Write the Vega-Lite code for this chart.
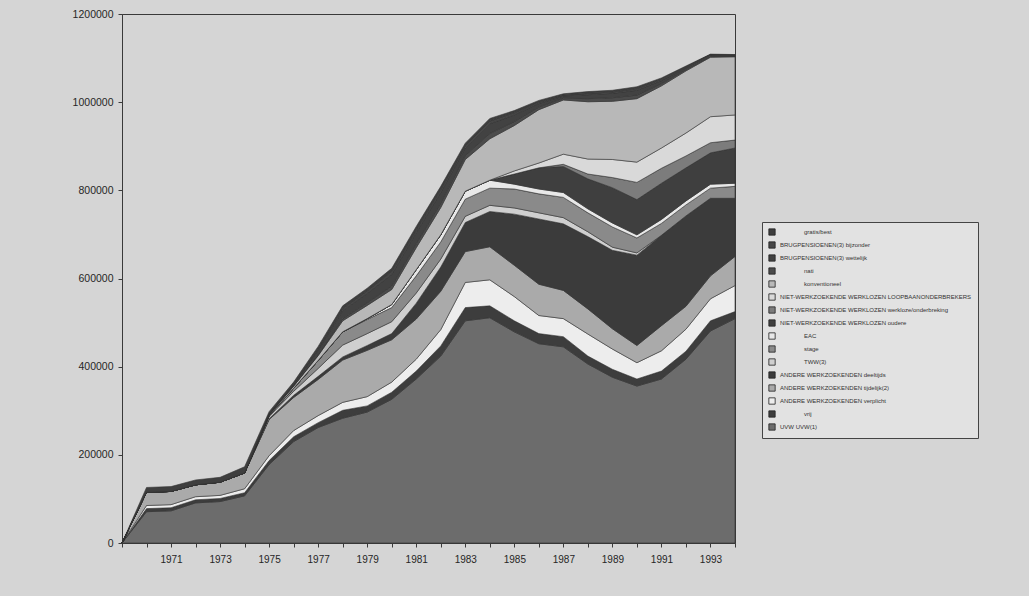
{
"$schema": "https://vega.github.io/schema/vega-lite/v6.json",
"width": 613,
"height": 529,
"autosize": {"type": "none"},
"padding": {"left": 122, "top": 14, "right": 294, "bottom": 53},
"background": "#d5d5d5",
"config": {
  "view": {"stroke": "#3a3a3a", "strokeWidth": 1},
  "font": "Liberation Sans",
  "axis": {"labelFont": "Liberation Sans", "labelColor": "#262626", "domainColor": "#3a3a3a", "tickColor": "#3a3a3a", "grid": false},
  "legend": {"labelFont": "Liberation Sans"}
},
"datasets": {
  "reeksen": [
    {"k": "u", "reeks": "UVW UVW(1)"},
    {"k": "vr", "reeks": "vrij"},
    {"k": "vp", "reeks": "ANDERE WERKZOEKENDEN verplicht"},
    {"k": "tj", "reeks": "ANDERE WERKZOEKENDEN tijdelijk(2)"},
    {"k": "dt", "reeks": "ANDERE WERKZOEKENDEN deeltijds"},
    {"k": "tw", "reeks": "TWW(3)"},
    {"k": "st", "reeks": "stage"},
    {"k": "ea", "reeks": "EAC"},
    {"k": "ou", "reeks": "NIET-WERKZOEKENDE WERKLOZEN oudere"},
    {"k": "wo", "reeks": "NIET-WERKZOEKENDE WERKLOZEN werkloze/onderbreking"},
    {"k": "lb", "reeks": "NIET-WERKZOEKENDE WERKLOZEN LOOPBAANONDERBREKERS"},
    {"k": "ko", "reeks": "konventioneel"},
    {"k": "na", "reeks": "nati"},
    {"k": "we", "reeks": "BRUGPENSIOENEN(3) wettelijk"},
    {"k": "bi", "reeks": "BRUGPENSIOENEN(3) bijzonder"},
    {"k": "gr", "reeks": "gratis/best"}
  ],
  "punten": [
{"jaar":1969,"k":"u","aantal":0},{"jaar":1969,"k":"vr","aantal":0},{"jaar":1969,"k":"vp","aantal":0},{"jaar":1969,"k":"tj","aantal":0},{"jaar":1969,"k":"dt","aantal":0},{"jaar":1969,"k":"tw","aantal":0},{"jaar":1969,"k":"st","aantal":0},{"jaar":1969,"k":"ea","aantal":0},{"jaar":1969,"k":"ou","aantal":0},{"jaar":1969,"k":"wo","aantal":0},{"jaar":1969,"k":"lb","aantal":0},{"jaar":1969,"k":"ko","aantal":0},{"jaar":1969,"k":"na","aantal":0},{"jaar":1969,"k":"we","aantal":0},{"jaar":1969,"k":"bi","aantal":0},{"jaar":1969,"k":"gr","aantal":0},
{"jaar":1970,"k":"u","aantal":71000},{"jaar":1970,"k":"vr","aantal":7000},{"jaar":1970,"k":"vp","aantal":7000},{"jaar":1970,"k":"tj","aantal":30000},{"jaar":1970,"k":"dt","aantal":0},{"jaar":1970,"k":"tw","aantal":0},{"jaar":1970,"k":"st","aantal":0},{"jaar":1970,"k":"ea","aantal":0},{"jaar":1970,"k":"ou","aantal":0},{"jaar":1970,"k":"wo","aantal":0},{"jaar":1970,"k":"lb","aantal":0},{"jaar":1970,"k":"ko","aantal":0},{"jaar":1970,"k":"na","aantal":0},{"jaar":1970,"k":"we","aantal":0},{"jaar":1970,"k":"bi","aantal":0},{"jaar":1970,"k":"gr","aantal":11000},
{"jaar":1971,"k":"u","aantal":73000},{"jaar":1971,"k":"vr","aantal":7000},{"jaar":1971,"k":"vp","aantal":7000},{"jaar":1971,"k":"tj","aantal":30000},{"jaar":1971,"k":"dt","aantal":0},{"jaar":1971,"k":"tw","aantal":0},{"jaar":1971,"k":"st","aantal":0},{"jaar":1971,"k":"ea","aantal":0},{"jaar":1971,"k":"ou","aantal":0},{"jaar":1971,"k":"wo","aantal":0},{"jaar":1971,"k":"lb","aantal":0},{"jaar":1971,"k":"ko","aantal":0},{"jaar":1971,"k":"na","aantal":0},{"jaar":1971,"k":"we","aantal":0},{"jaar":1971,"k":"bi","aantal":0},{"jaar":1971,"k":"gr","aantal":11000},
{"jaar":1972,"k":"u","aantal":91000},{"jaar":1972,"k":"vr","aantal":7000},{"jaar":1972,"k":"vp","aantal":7000},{"jaar":1972,"k":"tj","aantal":27000},{"jaar":1972,"k":"dt","aantal":0},{"jaar":1972,"k":"tw","aantal":0},{"jaar":1972,"k":"st","aantal":0},{"jaar":1972,"k":"ea","aantal":0},{"jaar":1972,"k":"ou","aantal":0},{"jaar":1972,"k":"wo","aantal":0},{"jaar":1972,"k":"lb","aantal":0},{"jaar":1972,"k":"ko","aantal":0},{"jaar":1972,"k":"na","aantal":0},{"jaar":1972,"k":"we","aantal":0},{"jaar":1972,"k":"bi","aantal":0},{"jaar":1972,"k":"gr","aantal":11000},
{"jaar":1973,"k":"u","aantal":94000},{"jaar":1973,"k":"vr","aantal":7000},{"jaar":1973,"k":"vp","aantal":7000},{"jaar":1973,"k":"tj","aantal":30000},{"jaar":1973,"k":"dt","aantal":0},{"jaar":1973,"k":"tw","aantal":0},{"jaar":1973,"k":"st","aantal":0},{"jaar":1973,"k":"ea","aantal":0},{"jaar":1973,"k":"ou","aantal":0},{"jaar":1973,"k":"wo","aantal":0},{"jaar":1973,"k":"lb","aantal":0},{"jaar":1973,"k":"ko","aantal":0},{"jaar":1973,"k":"na","aantal":0},{"jaar":1973,"k":"we","aantal":0},{"jaar":1973,"k":"bi","aantal":0},{"jaar":1973,"k":"gr","aantal":11000},
{"jaar":1974,"k":"u","aantal":107000},{"jaar":1974,"k":"vr","aantal":7000},{"jaar":1974,"k":"vp","aantal":9000},{"jaar":1974,"k":"tj","aantal":36000},{"jaar":1974,"k":"dt","aantal":0},{"jaar":1974,"k":"tw","aantal":0},{"jaar":1974,"k":"st","aantal":0},{"jaar":1974,"k":"ea","aantal":0},{"jaar":1974,"k":"ou","aantal":0},{"jaar":1974,"k":"wo","aantal":0},{"jaar":1974,"k":"lb","aantal":0},{"jaar":1974,"k":"ko","aantal":0},{"jaar":1974,"k":"na","aantal":0},{"jaar":1974,"k":"we","aantal":0},{"jaar":1974,"k":"bi","aantal":0},{"jaar":1974,"k":"gr","aantal":14000},
{"jaar":1975,"k":"u","aantal":178000},{"jaar":1975,"k":"vr","aantal":9000},{"jaar":1975,"k":"vp","aantal":11000},{"jaar":1975,"k":"tj","aantal":82000},{"jaar":1975,"k":"dt","aantal":2000},{"jaar":1975,"k":"tw","aantal":5000},{"jaar":1975,"k":"st","aantal":2000},{"jaar":1975,"k":"ea","aantal":0},{"jaar":1975,"k":"ou","aantal":0},{"jaar":1975,"k":"wo","aantal":0},{"jaar":1975,"k":"lb","aantal":0},{"jaar":1975,"k":"ko","aantal":2000},{"jaar":1975,"k":"na","aantal":0},{"jaar":1975,"k":"we","aantal":2000},{"jaar":1975,"k":"bi","aantal":0},{"jaar":1975,"k":"gr","aantal":5000},
{"jaar":1976,"k":"u","aantal":230000},{"jaar":1976,"k":"vr","aantal":11000},{"jaar":1976,"k":"vp","aantal":14000},{"jaar":1976,"k":"tj","aantal":75000},{"jaar":1976,"k":"dt","aantal":5000},{"jaar":1976,"k":"tw","aantal":9000},{"jaar":1976,"k":"st","aantal":7000},{"jaar":1976,"k":"ea","aantal":0},{"jaar":1976,"k":"ou","aantal":0},{"jaar":1976,"k":"wo","aantal":0},{"jaar":1976,"k":"lb","aantal":0},{"jaar":1976,"k":"ko","aantal":5000},{"jaar":1976,"k":"na","aantal":0},{"jaar":1976,"k":"we","aantal":3000},{"jaar":1976,"k":"bi","aantal":1000},{"jaar":1976,"k":"gr","aantal":5000},
{"jaar":1977,"k":"u","aantal":262000},{"jaar":1977,"k":"vr","aantal":11000},{"jaar":1977,"k":"vp","aantal":16000},{"jaar":1977,"k":"tj","aantal":82000},{"jaar":1977,"k":"dt","aantal":7000},{"jaar":1977,"k":"tw","aantal":18000},{"jaar":1977,"k":"st","aantal":18000},{"jaar":1977,"k":"ea","aantal":0},{"jaar":1977,"k":"ou","aantal":0},{"jaar":1977,"k":"wo","aantal":0},{"jaar":1977,"k":"lb","aantal":0},{"jaar":1977,"k":"ko","aantal":11000},{"jaar":1977,"k":"na","aantal":2000},{"jaar":1977,"k":"we","aantal":10000},{"jaar":1977,"k":"bi","aantal":3000},{"jaar":1977,"k":"gr","aantal":6000},
{"jaar":1978,"k":"u","aantal":283000},{"jaar":1978,"k":"vr","aantal":18000},{"jaar":1978,"k":"vp","aantal":18000},{"jaar":1978,"k":"tj","aantal":96000},{"jaar":1978,"k":"dt","aantal":7000},{"jaar":1978,"k":"tw","aantal":27000},{"jaar":1978,"k":"st","aantal":30000},{"jaar":1978,"k":"ea","aantal":0},{"jaar":1978,"k":"ou","aantal":0},{"jaar":1978,"k":"wo","aantal":0},{"jaar":1978,"k":"lb","aantal":0},{"jaar":1978,"k":"ko","aantal":25000},{"jaar":1978,"k":"na","aantal":5000},{"jaar":1978,"k":"we","aantal":18000},{"jaar":1978,"k":"bi","aantal":5000},{"jaar":1978,"k":"gr","aantal":6000},
{"jaar":1979,"k":"u","aantal":297000},{"jaar":1979,"k":"vr","aantal":14000},{"jaar":1979,"k":"vp","aantal":21000},{"jaar":1979,"k":"tj","aantal":105000},{"jaar":1979,"k":"dt","aantal":11000},{"jaar":1979,"k":"tw","aantal":27000},{"jaar":1979,"k":"st","aantal":32000},{"jaar":1979,"k":"ea","aantal":2000},{"jaar":1979,"k":"ou","aantal":0},{"jaar":1979,"k":"wo","aantal":0},{"jaar":1979,"k":"lb","aantal":0},{"jaar":1979,"k":"ko","aantal":30000},{"jaar":1979,"k":"na","aantal":6000},{"jaar":1979,"k":"we","aantal":21000},{"jaar":1979,"k":"bi","aantal":6000},{"jaar":1979,"k":"gr","aantal":6000},
{"jaar":1980,"k":"u","aantal":326000},{"jaar":1980,"k":"vr","aantal":16000},{"jaar":1980,"k":"vp","aantal":23000},{"jaar":1980,"k":"tj","aantal":96000},{"jaar":1980,"k":"dt","aantal":14000},{"jaar":1980,"k":"tw","aantal":27000},{"jaar":1980,"k":"st","aantal":32000},{"jaar":1980,"k":"ea","aantal":7000},{"jaar":1980,"k":"ou","aantal":0},{"jaar":1980,"k":"wo","aantal":0},{"jaar":1980,"k":"lb","aantal":0},{"jaar":1980,"k":"ko","aantal":34000},{"jaar":1980,"k":"na","aantal":8000},{"jaar":1980,"k":"we","aantal":26000},{"jaar":1980,"k":"bi","aantal":7000},{"jaar":1980,"k":"gr","aantal":7000},
{"jaar":1981,"k":"u","aantal":372000},{"jaar":1981,"k":"vr","aantal":18000},{"jaar":1981,"k":"vp","aantal":27000},{"jaar":1981,"k":"tj","aantal":91000},{"jaar":1981,"k":"dt","aantal":36000},{"jaar":1981,"k":"tw","aantal":23000},{"jaar":1981,"k":"st","aantal":39000},{"jaar":1981,"k":"ea","aantal":14000},{"jaar":1981,"k":"ou","aantal":0},{"jaar":1981,"k":"wo","aantal":0},{"jaar":1981,"k":"lb","aantal":0},{"jaar":1981,"k":"ko","aantal":50000},{"jaar":1981,"k":"na","aantal":9000},{"jaar":1981,"k":"we","aantal":25000},{"jaar":1981,"k":"bi","aantal":7000},{"jaar":1981,"k":"gr","aantal":7000},
{"jaar":1982,"k":"u","aantal":424000},{"jaar":1982,"k":"vr","aantal":23000},{"jaar":1982,"k":"vp","aantal":37000},{"jaar":1982,"k":"tj","aantal":87000},{"jaar":1982,"k":"dt","aantal":55000},{"jaar":1982,"k":"tw","aantal":18000},{"jaar":1982,"k":"st","aantal":39000},{"jaar":1982,"k":"ea","aantal":16000},{"jaar":1982,"k":"ou","aantal":0},{"jaar":1982,"k":"wo","aantal":0},{"jaar":1982,"k":"lb","aantal":0},{"jaar":1982,"k":"ko","aantal":62000},{"jaar":1982,"k":"na","aantal":10000},{"jaar":1982,"k":"we","aantal":24000},{"jaar":1982,"k":"bi","aantal":7000},{"jaar":1982,"k":"gr","aantal":7000},
{"jaar":1983,"k":"u","aantal":504000},{"jaar":1983,"k":"vr","aantal":30000},{"jaar":1983,"k":"vp","aantal":57000},{"jaar":1983,"k":"tj","aantal":70000},{"jaar":1983,"k":"dt","aantal":66000},{"jaar":1983,"k":"tw","aantal":14000},{"jaar":1983,"k":"st","aantal":39000},{"jaar":1983,"k":"ea","aantal":18000},{"jaar":1983,"k":"ou","aantal":0},{"jaar":1983,"k":"wo","aantal":0},{"jaar":1983,"k":"lb","aantal":0},{"jaar":1983,"k":"ko","aantal":72000},{"jaar":1983,"k":"na","aantal":9000},{"jaar":1983,"k":"we","aantal":17000},{"jaar":1983,"k":"bi","aantal":5000},{"jaar":1983,"k":"gr","aantal":6000},
{"jaar":1984,"k":"u","aantal":511000},{"jaar":1984,"k":"vr","aantal":27000},{"jaar":1984,"k":"vp","aantal":59000},{"jaar":1984,"k":"tj","aantal":75000},{"jaar":1984,"k":"dt","aantal":80000},{"jaar":1984,"k":"tw","aantal":14000},{"jaar":1984,"k":"st","aantal":39000},{"jaar":1984,"k":"ea","aantal":18000},{"jaar":1984,"k":"ou","aantal":0},{"jaar":1984,"k":"wo","aantal":0},{"jaar":1984,"k":"lb","aantal":0},{"jaar":1984,"k":"ko","aantal":94000},{"jaar":1984,"k":"na","aantal":12000},{"jaar":1984,"k":"we","aantal":22000},{"jaar":1984,"k":"bi","aantal":6000},{"jaar":1984,"k":"gr","aantal":6000},
{"jaar":1985,"k":"u","aantal":479000},{"jaar":1985,"k":"vr","aantal":25000},{"jaar":1985,"k":"vp","aantal":55000},{"jaar":1985,"k":"tj","aantal":71000},{"jaar":1985,"k":"dt","aantal":116000},{"jaar":1985,"k":"tw","aantal":14000},{"jaar":1985,"k":"st","aantal":43000},{"jaar":1985,"k":"ea","aantal":11000},{"jaar":1985,"k":"ou","aantal":23000},{"jaar":1985,"k":"wo","aantal":0},{"jaar":1985,"k":"lb","aantal":7000},{"jaar":1985,"k":"ko","aantal":103000},{"jaar":1985,"k":"na","aantal":9000},{"jaar":1985,"k":"we","aantal":15000},{"jaar":1985,"k":"bi","aantal":5000},{"jaar":1985,"k":"gr","aantal":5000},
{"jaar":1986,"k":"u","aantal":452000},{"jaar":1986,"k":"vr","aantal":23000},{"jaar":1986,"k":"vp","aantal":41000},{"jaar":1986,"k":"tj","aantal":71000},{"jaar":1986,"k":"dt","aantal":148000},{"jaar":1986,"k":"tw","aantal":14000},{"jaar":1986,"k":"st","aantal":43000},{"jaar":1986,"k":"ea","aantal":11000},{"jaar":1986,"k":"ou","aantal":48000},{"jaar":1986,"k":"wo","aantal":0},{"jaar":1986,"k":"lb","aantal":11000},{"jaar":1986,"k":"ko","aantal":121000},{"jaar":1986,"k":"na","aantal":6000},{"jaar":1986,"k":"we","aantal":8000},{"jaar":1986,"k":"bi","aantal":3000},{"jaar":1986,"k":"gr","aantal":4000},
{"jaar":1987,"k":"u","aantal":445000},{"jaar":1987,"k":"vr","aantal":23000},{"jaar":1987,"k":"vp","aantal":41000},{"jaar":1987,"k":"tj","aantal":64000},{"jaar":1987,"k":"dt","aantal":151000},{"jaar":1987,"k":"tw","aantal":14000},{"jaar":1987,"k":"st","aantal":46000},{"jaar":1987,"k":"ea","aantal":11000},{"jaar":1987,"k":"ou","aantal":59000},{"jaar":1987,"k":"wo","aantal":5000},{"jaar":1987,"k":"lb","aantal":23000},{"jaar":1987,"k":"ko","aantal":123000},{"jaar":1987,"k":"na","aantal":4000},{"jaar":1987,"k":"we","aantal":5000},{"jaar":1987,"k":"bi","aantal":2000},{"jaar":1987,"k":"gr","aantal":3000},
{"jaar":1988,"k":"u","aantal":406000},{"jaar":1988,"k":"vr","aantal":18000},{"jaar":1988,"k":"vp","aantal":50000},{"jaar":1988,"k":"tj","aantal":57000},{"jaar":1988,"k":"dt","aantal":164000},{"jaar":1988,"k":"tw","aantal":11000},{"jaar":1988,"k":"st","aantal":43000},{"jaar":1988,"k":"ea","aantal":9000},{"jaar":1988,"k":"ou","aantal":68000},{"jaar":1988,"k":"wo","aantal":11000},{"jaar":1988,"k":"lb","aantal":34000},{"jaar":1988,"k":"ko","aantal":130000},{"jaar":1988,"k":"na","aantal":7000},{"jaar":1988,"k":"we","aantal":9000},{"jaar":1988,"k":"bi","aantal":3000},{"jaar":1988,"k":"gr","aantal":4000},
{"jaar":1989,"k":"u","aantal":376000},{"jaar":1989,"k":"vr","aantal":18000},{"jaar":1989,"k":"vp","aantal":46000},{"jaar":1989,"k":"tj","aantal":46000},{"jaar":1989,"k":"dt","aantal":178000},{"jaar":1989,"k":"tw","aantal":7000},{"jaar":1989,"k":"st","aantal":46000},{"jaar":1989,"k":"ea","aantal":9000},{"jaar":1989,"k":"ou","aantal":80000},{"jaar":1989,"k":"wo","aantal":23000},{"jaar":1989,"k":"lb","aantal":41000},{"jaar":1989,"k":"ko","aantal":132000},{"jaar":1989,"k":"na","aantal":8000},{"jaar":1989,"k":"we","aantal":10000},{"jaar":1989,"k":"bi","aantal":3000},{"jaar":1989,"k":"gr","aantal":4000},
{"jaar":1990,"k":"u","aantal":356000},{"jaar":1990,"k":"vr","aantal":16000},{"jaar":1990,"k":"vp","aantal":37000},{"jaar":1990,"k":"tj","aantal":39000},{"jaar":1990,"k":"dt","aantal":205000},{"jaar":1990,"k":"tw","aantal":5000},{"jaar":1990,"k":"st","aantal":34000},{"jaar":1990,"k":"ea","aantal":7000},{"jaar":1990,"k":"ou","aantal":80000},{"jaar":1990,"k":"wo","aantal":39000},{"jaar":1990,"k":"lb","aantal":46000},{"jaar":1990,"k":"ko","aantal":144000},{"jaar":1990,"k":"na","aantal":8000},{"jaar":1990,"k":"we","aantal":11000},{"jaar":1990,"k":"bi","aantal":4000},{"jaar":1990,"k":"gr","aantal":4000},
{"jaar":1991,"k":"u","aantal":372000},{"jaar":1991,"k":"vr","aantal":18000},{"jaar":1991,"k":"vp","aantal":46000},{"jaar":1991,"k":"tj","aantal":57000},{"jaar":1991,"k":"dt","aantal":205000},{"jaar":1991,"k":"tw","aantal":0},{"jaar":1991,"k":"st","aantal":27000},{"jaar":1991,"k":"ea","aantal":9000},{"jaar":1991,"k":"ou","aantal":82000},{"jaar":1991,"k":"wo","aantal":34000},{"jaar":1991,"k":"lb","aantal":46000},{"jaar":1991,"k":"ko","aantal":141000},{"jaar":1991,"k":"na","aantal":5000},{"jaar":1991,"k":"we","aantal":7000},{"jaar":1991,"k":"bi","aantal":3000},{"jaar":1991,"k":"gr","aantal":3000},
{"jaar":1992,"k":"u","aantal":417000},{"jaar":1992,"k":"vr","aantal":18000},{"jaar":1992,"k":"vp","aantal":50000},{"jaar":1992,"k":"tj","aantal":52000},{"jaar":1992,"k":"dt","aantal":205000},{"jaar":1992,"k":"tw","aantal":0},{"jaar":1992,"k":"st","aantal":25000},{"jaar":1992,"k":"ea","aantal":9000},{"jaar":1992,"k":"ou","aantal":75000},{"jaar":1992,"k":"wo","aantal":27000},{"jaar":1992,"k":"lb","aantal":52000},{"jaar":1992,"k":"ko","aantal":141000},{"jaar":1992,"k":"na","aantal":3000},{"jaar":1992,"k":"we","aantal":4000},{"jaar":1992,"k":"bi","aantal":2000},{"jaar":1992,"k":"gr","aantal":2000},
{"jaar":1993,"k":"u","aantal":481000},{"jaar":1993,"k":"vr","aantal":23000},{"jaar":1993,"k":"vp","aantal":50000},{"jaar":1993,"k":"tj","aantal":52000},{"jaar":1993,"k":"dt","aantal":176000},{"jaar":1993,"k":"tw","aantal":0},{"jaar":1993,"k":"st","aantal":23000},{"jaar":1993,"k":"ea","aantal":9000},{"jaar":1993,"k":"ou","aantal":71000},{"jaar":1993,"k":"wo","aantal":23000},{"jaar":1993,"k":"lb","aantal":59000},{"jaar":1993,"k":"ko","aantal":135000},{"jaar":1993,"k":"na","aantal":2000},{"jaar":1993,"k":"we","aantal":3000},{"jaar":1993,"k":"bi","aantal":1000},{"jaar":1993,"k":"gr","aantal":1000},
{"jaar":1994,"k":"u","aantal":509000},{"jaar":1994,"k":"vr","aantal":16000},{"jaar":1994,"k":"vp","aantal":59000},{"jaar":1994,"k":"tj","aantal":66000},{"jaar":1994,"k":"dt","aantal":132000},{"jaar":1994,"k":"tw","aantal":0},{"jaar":1994,"k":"st","aantal":27000},{"jaar":1994,"k":"ea","aantal":7000},{"jaar":1994,"k":"ou","aantal":80000},{"jaar":1994,"k":"wo","aantal":18000},{"jaar":1994,"k":"lb","aantal":57000},{"jaar":1994,"k":"ko","aantal":132000},{"jaar":1994,"k":"na","aantal":1000},{"jaar":1994,"k":"we","aantal":2000},{"jaar":1994,"k":"bi","aantal":1000},{"jaar":1994,"k":"gr","aantal":1000}
  ]
},
"data": {"name": "punten"},
"transform": [
  {"lookup": "k", "from": {"data": {"name": "reeksen"}, "key": "k", "fields": ["reeks"]}},
  {"calculate": "indexof(['u','vr','vp','tj','dt','tw','st','ea','ou','wo','lb','ko','na','we','bi','gr'], datum.k)", "as": "volgorde"}
],
"mark": {"type": "area", "stroke": "#333333", "strokeWidth": 0.6, "line": false},
"encoding": {
  "x": {
    "field": "jaar", "type": "quantitative",
    "scale": {"domain": [1969, 1994], "nice": false, "zero": false},
    "axis": {
      "title": null,
      "values": [1969,1970,1971,1972,1973,1974,1975,1976,1977,1978,1979,1980,1981,1982,1983,1984,1985,1986,1987,1988,1989,1990,1991,1992,1993,1994],
      "format": "d",
      "labelExpr": "(datum.value % 2 == 1 && datum.value > 1969) ? datum.label : ''",
      "tickSize": 4, "labelPadding": 7, "labelFontSize": 10, "labelFlush": false, "labelOverlap": false
    }
  },
  "y": {
    "field": "aantal", "type": "quantitative", "stack": "zero",
    "scale": {"domain": [0, 1200000], "nice": false},
    "axis": {
      "title": null,
      "values": [0, 200000, 400000, 600000, 800000, 1000000, 1200000],
      "format": "d", "tickSize": 4, "labelPadding": 5, "labelFontSize": 10.5
    }
  },
  "color": {
    "field": "reeks", "type": "nominal",
    "scale": {
      "domain": ["gratis/best", "BRUGPENSIOENEN(3) bijzonder", "BRUGPENSIOENEN(3) wettelijk", "nati", "konventioneel", "NIET-WERKZOEKENDE WERKLOZEN LOOPBAANONDERBREKERS", "NIET-WERKZOEKENDE WERKLOZEN werkloze/onderbreking", "NIET-WERKZOEKENDE WERKLOZEN oudere", "EAC", "stage", "TWW(3)", "ANDERE WERKZOEKENDEN deeltijds", "ANDERE WERKZOEKENDEN tijdelijk(2)", "ANDERE WERKZOEKENDEN verplicht", "vrij", "UVW UVW(1)"],
      "range": ["#3e3e3e", "#474747", "#424242", "#4b4b4b", "#b8b8b8", "#d9d9d9", "#7c7c7c", "#3f3f3f", "#e8e8e8", "#8a8a8a", "#cfcfcf", "#3b3b3b", "#aaaaaa", "#ededed", "#3d3d3d", "#6c6c6c"]
    },
    "legend": {
      "title": null, "orient": "none", "legendX": 640, "legendY": 208,
      "symbolType": "square", "symbolSize": 40, "symbolStrokeColor": "#222222", "symbolStrokeWidth": 0.8,
      "labelFontSize": 6, "labelColor": "#333333", "labelLimit": 230, "rowPadding": 3,
      "padding": 6, "strokeColor": "#444444", "fillColor": "#e2e2e2",
      "labelExpr": "(indexof(['gratis/best','nati','konventioneel','EAC','stage','TWW(3)','vrij'], datum.value) >= 0 ? '\u200c\u2003\u2003\u2003\u2003' : '') + datum.label"
    }
  },
  "order": {"field": "volgorde", "type": "quantitative"}
}
}
